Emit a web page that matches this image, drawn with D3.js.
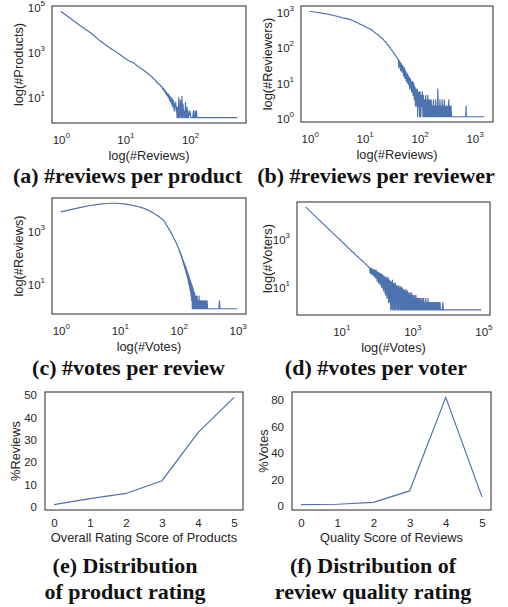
<!DOCTYPE html>
<html><head><meta charset="utf-8">
<script src="https://cdn.jsdelivr.net/npm/d3@7"></script>
<style>body{margin:0;background:#fff}svg{display:block}</style>
</head><body>
<svg id="c" width="508" height="607"></svg>
<script>
// ---------- DATA ----------
// (a) number of products having a given number of reviews
const reviewsPerProduct = [[1,57000],[2,13000],[3,5800],[4,2800],[5,1750],[6,1200],[7,900],[8,700],[9,540],[10,440],[11,370],[12,320],[13,300],[14,255],[15,215],[16,190],[17,165],[18,150],[19,138],[20,118],[21,108],[22,97],[23,86],[24,80],[25,70],[26,66],[27,56],[28,52],[29,47],[30,41],[31,39],[32,33],[33,31],[34,32],[35,25],[36,24],[37,25],[38,18],[39,20],[40,15],[41,17],[42,12],[43,14],[44,10],[45,12],[46,8],[47,11],[48,6],[49,9],[50,5],[51,8],[52,4],[53,7],[54,3],[55,6],[56,5],[57,2],[58,4],[59,3],[60,5],[61,2],[62,3],[63,1],[64,3],[66,1],[67,8],[68,1],[70,2],[71,6],[72,1],[73,1],[75,9],[76,1],[78,4],[80,1],[82,2],[84,1],[85,5],[87,1],[88,1],[90,3],[92,1],[93,2],[95,1],[100,2],[103,1],[110,1],[113,2],[115,1],[118,1],[120,2],[122,1],[126,2],[128,1],[140,1],[537,1]];
// (b) number of reviewers having a given number of reviews
const reviewsPerReviewer = [[1,950],[2,800],[3,700],[4,620],[5,580],[6,520],[7,470],[8,420],[9,390],[10,360],[11,330],[12,310],[13,290],[14,270],[15,245],[16,225],[17,215],[18,195],[19,185],[20,170],[21,160],[22,150],[23,135],[24,130],[25,118],[26,110],[27,100],[28,95],[29,88],[30,80],[31,76],[32,72],[33,66],[34,62],[35,60],[36,54],[37,52],[38,48],[39,46],[40,42],[41,40],[42,24],[43,38],[44,34],[45,20],[46,32],[47,30],[48,18],[49,28],[50,26],[51,14],[52,22],[53,24],[54,12],[55,20],[56,18],[57,10],[58,16],[59,17],[60,9],[61,15],[62,14],[63,8],[64,13],[65,12],[66,6],[67,11],[68,12],[69,7],[70,10],[71,5],[72,9],[73,5],[74,10],[75,8],[76,4],[77,7],[78,9],[79,6],[80,3],[81,6],[82,7],[83,5],[84,2],[85,5],[86,6],[87,5],[88,3],[89,2],[90,6],[91,3],[92,1],[93,5],[94,2],[95,4],[96,2],[97,4],[98,5],[99,2],[100,1],[102,5],[105,1],[107,4],[110,2],[112,5],[115,1],[117,4],[120,1],[123,3],[126,1],[129,4],[132,1],[135,3],[138,1],[141,4],[145,1],[148,3],[151,1],[155,3],[158,1],[162,3],[166,1],[170,2],[174,1],[178,3],[182,1],[186,2],[191,1],[195,3],[200,1],[204,2],[209,1],[214,6],[219,1],[224,2],[229,1],[234,3],[240,1],[246,2],[251,1],[257,3],[263,1],[269,2],[275,1],[282,3],[288,1],[295,2],[302,1],[309,2],[316,1],[324,2],[331,1],[339,3],[347,1],[355,2],[363,1],[372,2],[380,1],[690,1],[700,2],[710,1],[1500,1]];
// (c) number of reviews having a given number of votes
const votesPerReview = [[1,4800],[2,6800],[3,8200],[4,9000],[5,9600],[6,10000],[7,10200],[8,10200],[9,10100],[10,10000],[12,9600],[14,9100],[16,8600],[18,8100],[20,7700],[22,7300],[25,6700],[28,6000],[31,5400],[34,4900],[37,4400],[40,3900],[44,3400],[48,2950],[52,2600],[56,2200],[60,1700],[64,1350],[68,1090],[72,880],[76,700],[80,555],[84,450],[88,366],[92,297],[96,238],[100,190],[101,175],[102,160],[103,170],[104,140],[105,150],[106,125],[107,135],[108,115],[109,120],[110,100],[111,110],[112,88],[113,95],[114,78],[115,86],[116,70],[117,76],[118,60],[119,70],[120,52],[121,64],[122,46],[123,56],[124,42],[125,52],[126,36],[127,48],[128,32],[129,44],[130,30],[131,40],[132,26],[133,36],[134,22],[135,33],[136,20],[137,30],[138,18],[139,27],[140,16],[141,25],[142,14],[143,22],[144,12],[145,20],[146,10],[147,18],[148,9],[149,17],[150,8],[151,15],[152,7],[153,14],[154,6],[155,13],[156,5],[157,12],[158,5],[159,11],[160,4],[161,10],[162,3],[163,9],[164,3],[165,8],[166,2],[167,8],[168,2],[169,7],[170,1],[171,7],[172,2],[173,6],[174,1],[175,6],[176,1],[177,5],[178,1],[179,5],[180,1],[181,4],[182,1],[183,4],[184,1],[185,3],[186,1],[187,4],[188,1],[189,3],[190,1],[191,3],[192,1],[193,2],[194,1],[195,3],[196,1],[197,2],[198,1],[199,3],[200,1],[202,2],[204,1],[206,3],[208,1],[210,2],[212,1],[214,2],[216,1],[218,2],[220,1],[222,3],[224,1],[226,2],[228,1],[231,2],[234,1],[237,2],[240,1],[243,2],[246,1],[249,2],[252,1],[256,2],[260,1],[264,2],[268,1],[272,2],[276,1],[281,2],[286,1],[291,2],[296,1],[302,2],[308,1],[315,1],[480,1],[490,2],[500,1],[980,1]];
// (d) number of voters having cast a given number of votes
const votesPerVoter = [[1,17000],[2,6400],[3,3650],[4,2440],[5,1780],[6,1380],[7,1110],[8,920],[9,790],[10,680],[11,600],[12,530],[13,470],[14,420],[15,380],[16,350],[17,320],[18,295],[19,270],[20,255],[22,225],[24,200],[26,180],[28,160],[30,148],[32,135],[34,124],[36,116],[38,108],[40,100],[42,94],[44,88],[46,84],[48,78],[50,74],[52,70],[54,66],[56,63],[58,60],[60,56],[63,55],[65,32],[66,50],[68,36],[69,47],[71,30],[72,52],[74,28],[76,45],[78,33],[79,43],[81,26],[83,46],[85,24],[87,41],[89,27],[91,40],[93,20],[95,44],[98,22],[100,38],[102,15],[105,36],[107,18],[110,33],[112,13],[115,35],[117,14],[120,31],[123,11],[126,30],[129,12],[132,28],[135,9],[138,31],[141,8],[145,26],[148,10],[151,24],[155,6],[158,25],[162,7],[166,22],[170,5],[174,21],[178,4],[182,23],[186,5],[191,19],[195,3],[200,18],[204,4],[209,22],[214,2],[219,16],[224,3],[229,17],[234,2],[240,15],[246,1],[251,14],[257,2],[263,13],[269,1],[275,17],[282,1],[288,12],[295,2],[302,12],[309,1],[316,11],[324,1],[331,13],[339,1],[347,10],[355,2],[363,10],[372,1],[380,9],[389,1],[398,9],[407,1],[417,10],[427,1],[437,8],[447,2],[457,8],[468,1],[479,9],[490,1],[501,7],[513,1],[525,8],[537,1],[550,6],[562,1],[575,7],[589,1],[603,6],[617,1],[631,6],[646,1],[661,7],[676,1],[692,5],[708,1],[724,6],[741,1],[759,5],[776,1],[794,5],[813,1],[832,4],[851,1],[871,5],[891,1],[912,4],[933,1],[955,5],[977,1],[1000,4],[1023,1],[1047,4],[1072,1],[1096,3],[1122,1],[1148,4],[1175,1],[1202,3],[1230,1],[1259,4],[1288,1],[1318,3],[1349,1],[1380,3],[1413,1],[1445,3],[1479,1],[1514,3],[1549,1],[1585,3],[1622,1],[1660,2],[1698,1],[1738,3],[1778,1],[1820,2],[1862,1],[1905,3],[1950,1],[1995,2],[2042,1],[2089,3],[2138,1],[2188,2],[2239,1],[2291,2],[2344,1],[2399,3],[2455,1],[2512,2],[2570,1],[2630,2],[2692,1],[2754,3],[2818,1],[2884,2],[2951,1],[3020,2],[3090,1],[3162,2],[3236,1],[3311,2],[3388,1],[3467,2],[3548,1],[3631,2],[3715,1],[3802,2],[3890,1],[3981,2],[4074,1],[4169,2],[4266,1],[4365,2],[4467,1],[4571,2],[4677,1],[4786,2],[4898,1],[5012,2],[5129,1],[5248,2],[5370,1],[5495,2],[5623,1],[5754,2],[5888,1],[6026,2],[6166,1],[6310,1],[6918,1],[7244,2],[7413,1],[87000,1]];
// (e) distribution of product rating
const ratingScores = [0,1,2,3,4,5];
const productRatingPct = [0.8,3.5,5.8,11.5,33,48.8];
// (f) distribution of review quality rating
const qualityScores = [0,1,2,3,4,5];
const qualityVotesPct = [0.6,0.9,2.3,11,82,6.5];
// tick labels (exponents for log axes)
const ticksA = {x:[0,1,2], y:[1,3,5]};
const ticksB = {x:[0,1,2,3], y:[0,1,2,3]};
const ticksC = {x:[0,1,2,3], y:[1,3]};
const ticksD = {x:[1,3,5], y:[1,3]};
const ticksEy = [0,10,20,30,40,50];
const ticksFy = [0,20,40,60,80];
const scoreTicks = [0,1,2,3,4,5];

// ---------- STYLE / LAYOUT ----------
const BLUE = '#4C72B0', TXT = '#262626', EDGE = '#4a4a4a';
const SANS = "'Liberation Sans', Arial, sans-serif";
const SERIF = "'Liberation Serif', 'Times New Roman', serif";
const svg = d3.select('#c');

function logDom(v){const lo=Math.log10(d3.min(v)),hi=Math.log10(d3.max(v)),m=(hi-lo)*0.05;return [10**(lo-m),10**(hi+m)];}
function linDom(v){const lo=d3.min(v),hi=d3.max(v),m=(hi-lo)*0.05;return [lo-m,hi+m];}

function frameAndLabels(g,f,xlab,ylab,xlabOff,ylabX){
  g.append('rect').attr('x',f.x0).attr('y',f.y0).attr('width',f.x1-f.x0).attr('height',f.y1-f.y0)
    .attr('fill','none').attr('stroke',EDGE).attr('stroke-width',1.2);
  g.append('text').attr('x',(f.x0+f.x1)/2).attr('y',f.y1+xlabOff+4.5).attr('text-anchor','middle')
    .attr('font-family',SANS).attr('font-size',12.8).attr('fill',TXT).text(xlab);
  g.append('text').attr('transform',`translate(${ylabX+4.5},${(f.y0+f.y1)/2}) rotate(-90)`).attr('text-anchor','middle')
    .attr('font-family',SANS).attr('font-size',12.8).attr('fill',TXT).text(ylab);
}

function logPanel(data,f,ticks,xlab,ylab,ylabX){
  const g = svg.append('g');
  const x = d3.scaleLog().domain(logDom(data.map(d=>d[0]))).range([f.x0,f.x1]);
  const y = d3.scaleLog().domain(logDom(data.map(d=>d[1]))).range([f.y1,f.y0]);
  g.append('path').datum(data).attr('fill','none').attr('stroke',BLUE).attr('stroke-width',1.2)
    .attr('stroke-linejoin','round').attr('d',d3.line().x(d=>x(d[0])).y(d=>y(d[1])));
  const sup = function(d){
    const t=d3.select(this); t.text(null);
    t.append('tspan').text('10');
    t.append('tspan').attr('dy',-6).attr('font-size',8).text(Math.round(Math.log10(d)));
  };
  const ax = g.append('g').attr('transform',`translate(0,${f.y1})`)
    .call(d3.axisBottom(x).tickValues(ticks.x.map(e=>10**e)).tickSize(0).tickFormat(''));
  ax.select('.domain').remove();
  ax.selectAll('.tick text').attr('y',21).attr('dy',null).attr('font-family',SANS).attr('font-size',11.5).attr('fill',TXT).each(sup);
  const ay = g.append('g').attr('transform',`translate(${f.x0},0)`)
    .call(d3.axisLeft(y).tickValues(ticks.y.map(e=>10**e)).tickSize(0).tickFormat(''));
  ay.select('.domain').remove();
  ay.selectAll('.tick text').attr('x',-7).attr('dy',6).attr('text-anchor','end').attr('font-family',SANS).attr('font-size',11.5).attr('fill',TXT).each(sup);
  frameAndLabels(g,f,xlab,ylab,32,ylabX);
}

function linPanel(xs,ys,f,yt,xlab,ylab,ylabX){
  const g = svg.append('g');
  const x = d3.scaleLinear().domain(linDom(xs)).range([f.x0,f.x1]);
  const y = d3.scaleLinear().domain(linDom(ys)).range([f.y1,f.y0]);
  g.append('path').datum(xs.map((v,i)=>[v,ys[i]])).attr('fill','none').attr('stroke',BLUE).attr('stroke-width',1.2)
    .attr('d',d3.line().x(d=>x(d[0])).y(d=>y(d[1])));
  const ax = g.append('g').attr('transform',`translate(0,${f.y1})`)
    .call(d3.axisBottom(x).tickValues(scoreTicks).tickSize(0).tickFormat(d3.format('d')));
  ax.select('.domain').remove();
  ax.selectAll('.tick text').attr('y',17).attr('dy',null).attr('font-family',SANS).attr('font-size',11.5).attr('fill',TXT);
  const ay = g.append('g').attr('transform',`translate(${f.x0},0)`)
    .call(d3.axisLeft(y).tickValues(yt).tickSize(0).tickFormat(d3.format('d')));
  ay.select('.domain').remove();
  ay.selectAll('.tick text').attr('x',-8).attr('dy',4).attr('text-anchor','end').attr('font-family',SANS).attr('font-size',11.5).attr('fill',TXT);
  frameAndLabels(g,f,xlab,ylab,27,ylabX);
}

function caption(lines,cx,baselines){
  lines.forEach((s,i)=>svg.append('text').attr('x',cx).attr('y',baselines[i]).attr('text-anchor','middle')
    .attr('font-family',SERIF).attr('font-weight','bold').attr('font-size',22).attr('fill','#111').text(s));
}

logPanel(reviewsPerProduct,{x0:52,x1:246,y0:6,y1:123},ticksA,'log(#Reviews)','log(#Products)',18);
logPanel(reviewsPerReviewer,{x0:301,x1:493,y0:6,y1:122},ticksB,'log(#Reviews)','log(#Reviewers)',267);
logPanel(votesPerReview,{x0:52,x1:246,y0:198,y1:314},ticksC,'log(#Votes)','log(#Reviews)',18);
logPanel(votesPerVoter,{x0:297,x1:490,y0:202,y1:315},ticksD,'log(#Votes)','log(#Voters)',267);
linPanel(ratingScores,productRatingPct,{x0:45,x1:243,y0:392,y1:510},ticksEy,'Overall Rating Score of Products','%Reviews',15);
linPanel(qualityScores,qualityVotesPct,{x0:292,x1:491,y0:392,y1:510},ticksFy,'Quality Score of Reviews','%Votes',263);

caption(['(a) #reviews per product'],127.5,[183]);
caption(['(b) #reviews per reviewer'],376,[183]);
caption(['(c) #votes per review'],128.5,[375]);
caption(['(d) #votes per voter'],376,[375]);
caption(['(e) Distribution','of product rating'],125,[573,599]);
caption(['(f) Distribution of','review quality rating'],373,[573,599]);
</script>
</body></html>
